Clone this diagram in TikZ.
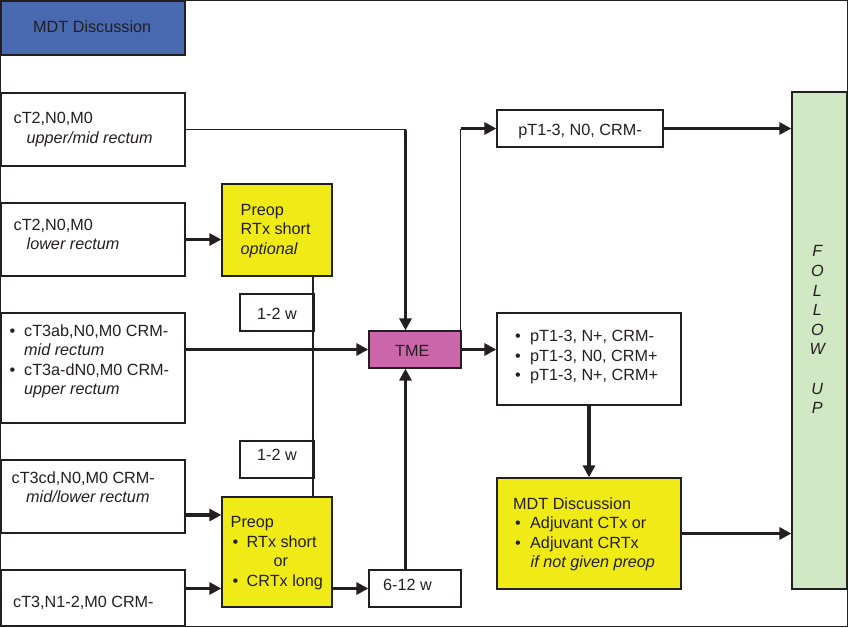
\documentclass[tikz,border=0pt]{standalone}
\usepackage{fontspec}
\setmainfont{Liberation Sans}
\usetikzlibrary{arrows.meta}
\definecolor{ink}{RGB}{35,31,32}
\definecolor{mdtblue}{RGB}{72,104,176}
\definecolor{prepyellow}{RGB}{240,234,22}
\definecolor{tmepink}{RGB}{204,102,170}
\definecolor{fugreen}{RGB}{208,232,196}
\begin{document}
\begin{tikzpicture}[x=1pt,y=-1pt,
  every node/.style={font=\fontsize{16.2pt}{19.5pt}\selectfont, text=ink},
  box/.style={draw=ink, line width=1.3pt, inner sep=0pt, anchor=center},
  txt/.style={inner sep=0pt, align=left, anchor=north west},
  lbl/.style={inner sep=0pt},
  thinline/.style={draw=ink, line width=1.3pt},
  thickarrow/.style={draw=ink, line width=3.2pt, -{Triangle[length=12pt,width=12pt]}}]
\useasboundingbox (0,0) rectangle (848,627);
\draw[thinline] (0.75,0.75) rectangle (847.25,626.25);

% boxes
\node[box, fill=mdtblue, minimum width=184pt, minimum height=54pt] (mdt) at (93,28) {};
\node[box, minimum width=184pt, minimum height=73pt] (a) at (93,129.5) {};
\node[box, minimum width=184pt, minimum height=73pt] (b) at (93,239.5) {};
\node[box, minimum width=184pt, minimum height=110pt] (c) at (93,368) {};
\node[box, minimum width=184pt, minimum height=73pt] (d) at (93,496.5) {};
\node[box, minimum width=184pt, minimum height=56pt] (e) at (93,598) {};
\node[box, fill=prepyellow, minimum width=110pt, minimum height=92pt] (p1) at (277,230) {};
\node[box, minimum width=74pt, minimum height=37pt] (w1) at (277,312.5) {};
\node[box, minimum width=74pt, minimum height=37pt] (w2) at (277,459.5) {};
\node[box, fill=tmepink, minimum width=92pt, minimum height=37pt] (tme) at (415,349.5) {};
\node[box, fill=prepyellow, minimum width=110pt, minimum height=110pt] (p2) at (277,552) {};
\node[box, minimum width=92pt, minimum height=37pt] (w612) at (415,588.5) {};
\node[box, minimum width=166pt, minimum height=37pt] (pt1) at (580,128.5) {};
\node[box, minimum width=184pt, minimum height=92pt] (pt2) at (589,359) {};
\node[box, fill=prepyellow, minimum width=184pt, minimum height=111pt] (mdt2) at (589,533.5) {};
\node[box, fill=fugreen, minimum width=55pt, minimum height=497pt] (fu) at (819.5,340.5) {};

% texts
\node[lbl, anchor=base] (tmdt) at (92.2,32.3) {MDT Discussion};
\node[txt] (ta) at (13.5,109.7) {\strut cT2,N0,M0\\\hspace*{13pt}\textit{upper/mid rectum}};
\node[txt] (tb) at (13.5,216.4) {\strut cT2,N0,M0\\\hspace*{13pt}\textit{lower rectum}};
\node[txt] (tp1) at (240.5,201.4) {\strut Preop\\RTx short\\\textit{optional}};
\node[txt] (tc) at (9.5,322.4) {\strut\makebox[14.5pt][l]{\textbullet}cT3ab,N0,M0 CRM-\\\hspace*{14.5pt}\textit{mid rectum}\\\makebox[14.5pt][l]{\textbullet}cT3a-dN0,M0 CRM-\\\hspace*{14.5pt}\textit{upper rectum}};
\node[lbl, anchor=base] (tw1) at (277,319) {1-2 w};
\node[lbl, anchor=base] (tw2) at (277,460) {1-2 w};
\node[lbl, anchor=base west] (ttme) at (395,356) {TME};
\node[txt] (td) at (11.5,469.4) {\strut cT3cd,N0,M0 CRM-\\\hspace*{14.5pt}\textit{mid/lower rectum}};
\node[lbl, anchor=base west] (te) at (13,607) {cT3,N1-2,M0 CRM-};
\node[txt] (tp2) at (230.5,514) {\strut Preop\\\hspace*{2pt}\makebox[14pt][l]{\textbullet}RTx short\\\hspace*{43pt}or\\\hspace*{2pt}\makebox[14pt][l]{\textbullet}CRTx long};
\node[lbl, anchor=base west] (tw612) at (383,590.7) {6-12 w};
\node[lbl, anchor=base] (tpt1) at (580,135) {pT1-3, N0, CRM-};
\node[txt] (tpt2) at (515,328) {\strut\makebox[15pt][l]{\textbullet}pT1-3, N+, CRM-\\\makebox[15pt][l]{\textbullet}pT1-3, N0, CRM+\\\makebox[15pt][l]{\textbullet}pT1-3, N+, CRM+};
\node[txt] (tmdt2) at (513,495.4) {\strut MDT Discussion\\\hspace*{2pt}\makebox[15pt][l]{\textbullet}Adjuvant CTx or\\\hspace*{2pt}\makebox[15pt][l]{\textbullet}Adjuvant CRTx\\\hspace*{17.5pt}\textit{if not given preop}};
\node[inner sep=0pt, align=center, anchor=north, font=\fontsize{16.2pt}{19.6pt}\selectfont\itshape] (tfu) at (817.3,243) {\strut F\\O\\L\\L\\O\\W\\[19.6pt]U\\P};

% connectors
\coordinate (tmein) at ([xshift=-9.5pt]tme.north);
\draw[thinline] (a.east) -- (a.east -| tmein);
\draw[thickarrow] (a.east -| tmein) -- (tmein);
\draw[thickarrow] (b.east) -- (b.east -| p1.west);
\coordinate (p1out) at ([xshift=36pt]p1.south);
\draw[thinline] (p1out) -- (p1out |- p2.north);
\draw[thickarrow] (c.east |- tme.west) -- (tme.west);
\coordinate (dout) at ([yshift=-18.5pt]d.east);
\draw[thickarrow] (dout) -- (dout -| p2.west);
\draw[thickarrow] (e.east |- w612.west) -- (p2.west |- w612.west);
\draw[thickarrow] (p2.east |- w612.west) -- (w612.west);
\draw[thickarrow] (w612.north -| tmein) -- (tme.south -| tmein);
\coordinate (tmene) at ([xshift=-1pt]tme.north east);
\coordinate (k1) at (tmene |- pt1.west);
\draw[thinline] (tmene) -- (k1);
\draw[thickarrow] (k1) -- (pt1.west);
\draw[thickarrow] (tme.east) -- (tme.east -| pt2.west);
\draw[thickarrow] (pt1.east) -- (pt1.east -| fu.west);
\draw[thickarrow] (pt2.south) -- (mdt2.north);
\draw[thickarrow] (mdt2.east) -- (mdt2.east -| fu.west);
\end{tikzpicture}
\end{document}
